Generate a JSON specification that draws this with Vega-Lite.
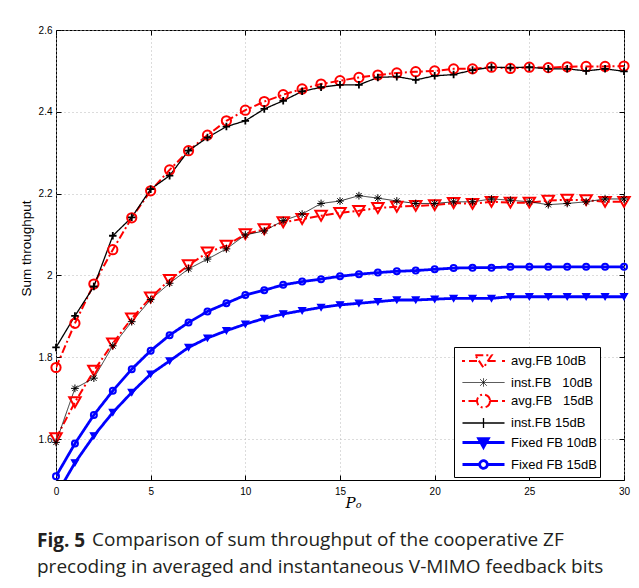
{
  "$schema": "https://vega.github.io/schema/vega-lite/v6.json",
  "background": "white",
  "padding": {"left": 18, "top": 24, "right": 5, "bottom": 5},
  "datasets": {
    "curves": [
      {"s": "avg10", "x": 0, "y": 1.602}, {"s": "avg10", "x": 1, "y": 1.690}, {"s": "avg10", "x": 2, "y": 1.767}, {"s": "avg10", "x": 3, "y": 1.834}, {"s": "avg10", "x": 4, "y": 1.895}, {"s": "avg10", "x": 5, "y": 1.946}, {"s": "avg10", "x": 6, "y": 1.989}, {"s": "avg10", "x": 7, "y": 2.025}, {"s": "avg10", "x": 8, "y": 2.056}, {"s": "avg10", "x": 9, "y": 2.073}, {"s": "avg10", "x": 10, "y": 2.101}, {"s": "avg10", "x": 11, "y": 2.113}, {"s": "avg10", "x": 12, "y": 2.130}, {"s": "avg10", "x": 13, "y": 2.138}, {"s": "avg10", "x": 14, "y": 2.146}, {"s": "avg10", "x": 15, "y": 2.153}, {"s": "avg10", "x": 16, "y": 2.158}, {"s": "avg10", "x": 17, "y": 2.165}, {"s": "avg10", "x": 18, "y": 2.168}, {"s": "avg10", "x": 19, "y": 2.170}, {"s": "avg10", "x": 20, "y": 2.172}, {"s": "avg10", "x": 21, "y": 2.177}, {"s": "avg10", "x": 22, "y": 2.175}, {"s": "avg10", "x": 23, "y": 2.180}, {"s": "avg10", "x": 24, "y": 2.178}, {"s": "avg10", "x": 25, "y": 2.178}, {"s": "avg10", "x": 26, "y": 2.183}, {"s": "avg10", "x": 27, "y": 2.185}, {"s": "avg10", "x": 28, "y": 2.184}, {"s": "avg10", "x": 29, "y": 2.180}, {"s": "avg10", "x": 30, "y": 2.180},
      {"s": "inst10", "x": 0, "y": 1.592}, {"s": "inst10", "x": 1, "y": 1.724}, {"s": "inst10", "x": 2, "y": 1.749}, {"s": "inst10", "x": 3, "y": 1.828}, {"s": "inst10", "x": 4, "y": 1.887}, {"s": "inst10", "x": 5, "y": 1.941}, {"s": "inst10", "x": 6, "y": 1.981}, {"s": "inst10", "x": 7, "y": 2.016}, {"s": "inst10", "x": 8, "y": 2.040}, {"s": "inst10", "x": 9, "y": 2.065}, {"s": "inst10", "x": 10, "y": 2.099}, {"s": "inst10", "x": 11, "y": 2.109}, {"s": "inst10", "x": 12, "y": 2.134}, {"s": "inst10", "x": 13, "y": 2.150}, {"s": "inst10", "x": 14, "y": 2.176}, {"s": "inst10", "x": 15, "y": 2.182}, {"s": "inst10", "x": 16, "y": 2.195}, {"s": "inst10", "x": 17, "y": 2.189}, {"s": "inst10", "x": 18, "y": 2.182}, {"s": "inst10", "x": 19, "y": 2.176}, {"s": "inst10", "x": 20, "y": 2.176}, {"s": "inst10", "x": 21, "y": 2.180}, {"s": "inst10", "x": 22, "y": 2.180}, {"s": "inst10", "x": 23, "y": 2.187}, {"s": "inst10", "x": 24, "y": 2.184}, {"s": "inst10", "x": 25, "y": 2.180}, {"s": "inst10", "x": 26, "y": 2.173}, {"s": "inst10", "x": 27, "y": 2.176}, {"s": "inst10", "x": 28, "y": 2.180}, {"s": "inst10", "x": 29, "y": 2.187}, {"s": "inst10", "x": 30, "y": 2.187},
      {"s": "avg15", "x": 0, "y": 1.775}, {"s": "avg15", "x": 1, "y": 1.883}, {"s": "avg15", "x": 2, "y": 1.979}, {"s": "avg15", "x": 3, "y": 2.063}, {"s": "avg15", "x": 4, "y": 2.141}, {"s": "avg15", "x": 5, "y": 2.207}, {"s": "avg15", "x": 6, "y": 2.258}, {"s": "avg15", "x": 7, "y": 2.305}, {"s": "avg15", "x": 8, "y": 2.343}, {"s": "avg15", "x": 9, "y": 2.378}, {"s": "avg15", "x": 10, "y": 2.404}, {"s": "avg15", "x": 11, "y": 2.425}, {"s": "avg15", "x": 12, "y": 2.442}, {"s": "avg15", "x": 13, "y": 2.456}, {"s": "avg15", "x": 14, "y": 2.468}, {"s": "avg15", "x": 15, "y": 2.476}, {"s": "avg15", "x": 16, "y": 2.484}, {"s": "avg15", "x": 17, "y": 2.490}, {"s": "avg15", "x": 18, "y": 2.495}, {"s": "avg15", "x": 19, "y": 2.498}, {"s": "avg15", "x": 20, "y": 2.500}, {"s": "avg15", "x": 21, "y": 2.505}, {"s": "avg15", "x": 22, "y": 2.505}, {"s": "avg15", "x": 23, "y": 2.509}, {"s": "avg15", "x": 24, "y": 2.506}, {"s": "avg15", "x": 25, "y": 2.509}, {"s": "avg15", "x": 26, "y": 2.508}, {"s": "avg15", "x": 27, "y": 2.510}, {"s": "avg15", "x": 28, "y": 2.511}, {"s": "avg15", "x": 29, "y": 2.511}, {"s": "avg15", "x": 30, "y": 2.512},
      {"s": "inst15", "x": 0, "y": 1.824}, {"s": "inst15", "x": 1, "y": 1.901}, {"s": "inst15", "x": 2, "y": 1.973}, {"s": "inst15", "x": 3, "y": 2.097}, {"s": "inst15", "x": 4, "y": 2.142}, {"s": "inst15", "x": 5, "y": 2.211}, {"s": "inst15", "x": 6, "y": 2.244}, {"s": "inst15", "x": 7, "y": 2.305}, {"s": "inst15", "x": 8, "y": 2.337}, {"s": "inst15", "x": 9, "y": 2.364}, {"s": "inst15", "x": 10, "y": 2.378}, {"s": "inst15", "x": 11, "y": 2.407}, {"s": "inst15", "x": 12, "y": 2.427}, {"s": "inst15", "x": 13, "y": 2.450}, {"s": "inst15", "x": 14, "y": 2.460}, {"s": "inst15", "x": 15, "y": 2.466}, {"s": "inst15", "x": 16, "y": 2.466}, {"s": "inst15", "x": 17, "y": 2.484}, {"s": "inst15", "x": 18, "y": 2.486}, {"s": "inst15", "x": 19, "y": 2.478}, {"s": "inst15", "x": 20, "y": 2.488}, {"s": "inst15", "x": 21, "y": 2.491}, {"s": "inst15", "x": 22, "y": 2.502}, {"s": "inst15", "x": 23, "y": 2.509}, {"s": "inst15", "x": 24, "y": 2.508}, {"s": "inst15", "x": 25, "y": 2.509}, {"s": "inst15", "x": 26, "y": 2.505}, {"s": "inst15", "x": 27, "y": 2.505}, {"s": "inst15", "x": 28, "y": 2.500}, {"s": "inst15", "x": 29, "y": 2.505}, {"s": "inst15", "x": 30, "y": 2.499},
      {"s": "fix10", "x": 0, "y": 1.462}, {"s": "fix10", "x": 1, "y": 1.542}, {"s": "fix10", "x": 2, "y": 1.608}, {"s": "fix10", "x": 3, "y": 1.665}, {"s": "fix10", "x": 4, "y": 1.714}, {"s": "fix10", "x": 5, "y": 1.759}, {"s": "fix10", "x": 6, "y": 1.791}, {"s": "fix10", "x": 7, "y": 1.824}, {"s": "fix10", "x": 8, "y": 1.847}, {"s": "fix10", "x": 9, "y": 1.865}, {"s": "fix10", "x": 10, "y": 1.881}, {"s": "fix10", "x": 11, "y": 1.895}, {"s": "fix10", "x": 12, "y": 1.906}, {"s": "fix10", "x": 13, "y": 1.914}, {"s": "fix10", "x": 14, "y": 1.922}, {"s": "fix10", "x": 15, "y": 1.928}, {"s": "fix10", "x": 16, "y": 1.932}, {"s": "fix10", "x": 17, "y": 1.936}, {"s": "fix10", "x": 18, "y": 1.940}, {"s": "fix10", "x": 19, "y": 1.940}, {"s": "fix10", "x": 20, "y": 1.942}, {"s": "fix10", "x": 21, "y": 1.944}, {"s": "fix10", "x": 22, "y": 1.944}, {"s": "fix10", "x": 23, "y": 1.944}, {"s": "fix10", "x": 24, "y": 1.948}, {"s": "fix10", "x": 25, "y": 1.948}, {"s": "fix10", "x": 26, "y": 1.948}, {"s": "fix10", "x": 27, "y": 1.948}, {"s": "fix10", "x": 28, "y": 1.948}, {"s": "fix10", "x": 29, "y": 1.948}, {"s": "fix10", "x": 30, "y": 1.948},
      {"s": "fix15", "x": 0, "y": 1.509}, {"s": "fix15", "x": 1, "y": 1.589}, {"s": "fix15", "x": 2, "y": 1.659}, {"s": "fix15", "x": 3, "y": 1.718}, {"s": "fix15", "x": 4, "y": 1.771}, {"s": "fix15", "x": 5, "y": 1.816}, {"s": "fix15", "x": 6, "y": 1.854}, {"s": "fix15", "x": 7, "y": 1.885}, {"s": "fix15", "x": 8, "y": 1.912}, {"s": "fix15", "x": 9, "y": 1.932}, {"s": "fix15", "x": 10, "y": 1.952}, {"s": "fix15", "x": 11, "y": 1.964}, {"s": "fix15", "x": 12, "y": 1.977}, {"s": "fix15", "x": 13, "y": 1.985}, {"s": "fix15", "x": 14, "y": 1.991}, {"s": "fix15", "x": 15, "y": 1.998}, {"s": "fix15", "x": 16, "y": 2.003}, {"s": "fix15", "x": 17, "y": 2.007}, {"s": "fix15", "x": 18, "y": 2.010}, {"s": "fix15", "x": 19, "y": 2.012}, {"s": "fix15", "x": 20, "y": 2.015}, {"s": "fix15", "x": 21, "y": 2.018}, {"s": "fix15", "x": 22, "y": 2.019}, {"s": "fix15", "x": 23, "y": 2.019}, {"s": "fix15", "x": 24, "y": 2.021}, {"s": "fix15", "x": 25, "y": 2.021}, {"s": "fix15", "x": 26, "y": 2.021}, {"s": "fix15", "x": 27, "y": 2.021}, {"s": "fix15", "x": 28, "y": 2.021}, {"s": "fix15", "x": 29, "y": 2.021}, {"s": "fix15", "x": 30, "y": 2.021}
    ]
  },
  "title": {
    "text": "Fig. 5",
    "subtitle": "precoding in averaged and instantaneous V-MIMO feedback bits",
    "orient": "bottom",
    "anchor": "start",
    "frame": "group",
    "font": "Open Sans",
    "fontSize": 19,
    "fontWeight": "bold",
    "color": "#231f20",
    "subtitleFont": "Open Sans",
    "subtitleFontSize": 19,
    "subtitleFontWeight": "normal",
    "subtitleColor": "#231f20",
    "subtitlePadding": 7,
    "offset": 0,
    "dx": -19,
    "dy": -19
  },
  "vconcat": [
    {
      "title": {
        "text": "Comparison of sum throughput of the cooperative ZF",
        "orient": "bottom",
        "anchor": "start",
        "frame": "group",
        "font": "Open Sans",
        "fontSize": 19,
        "fontWeight": "normal",
        "color": "#231f20",
        "dx": 36,
        "offset": 21
      },
      "width": 568,
      "height": 450,
      "data": {"name": "curves"},
      "resolve": {"axis": {"x": "independent", "y": "independent"}},
      "layer": [
        {
          "mark": {"type": "line", "clip": true},
          "encoding": {
            "x": {"field": "x", "type": "quantitative", "scale": {"domain": [0, 30], "nice": false, "zero": false},
              "axis": {"values": [0, 5, 10, 15, 20, 25, 30], "grid": true, "domain": false, "tickSize": -5, "labelPadding": 11, "labelFlush": false,
                "title": "Pₒ", "titleFont": "DejaVu Serif", "titleFontStyle": "italic", "titleFontSize": 15, "titleX": 297, "titleY": 27, "titleBaseline": "alphabetic", "titleAlign": "center"}},
            "y": {"field": "y", "type": "quantitative", "scale": {"domain": [1.5, 2.6], "nice": false, "zero": false},
              "axis": {"values": [1.6, 1.8, 2, 2.2, 2.4, 2.6], "format": ".1~f", "grid": true, "domain": false, "tickSize": -5, "labelPadding": 9, "labelFlush": false,
                "title": "Sum throughput", "titleFontSize": 13.5, "titleX": -30, "titleY": 218, "titleAlign": "center", "titleBaseline": "middle"}},
            "color": {"field": "s", "type": "nominal",
              "scale": {"domain": ["avg10", "inst10", "avg15", "inst15", "fix10", "fix15"], "range": ["#ff0000", "#000000", "#ff0000", "#000000", "#0000ff", "#0000ff"]},
              "legend": {
                "orient": "none", "legendX": 398, "legendY": 317, "title": null,
                "padding": 3, "strokeColor": "black", "fillColor": "white",
                "symbolSize": 400, "symbolOffset": 15, "labelOffset": 16, "rowPadding": 0,
                "labelFont": "Liberation Sans", "labelFontSize": 13, "labelColor": "black",
                "labelExpr": "['avg.FB 10dB','inst.FB\u00a0\u00a0 10dB','avg.FB\u00a0\u00a0 15dB','inst.FB 15dB','Fixed FB 10dB','Fixed FB 15dB'][indexof(['avg10','inst10','avg15','inst15','fix10','fix15'], datum.value)] + '\u00a0\u00a0\u00a0\u00a0'",
                "encode": {"symbols": {"update": {
                  "shape": {"signal": "['M-2.15,0H-1.85M-1.45,0H-0.42M0.42,0H1.45M1.85,0H2.15M-0.82,-0.58H0.82L0,0.68Z', 'M-2.1,0H2.1M0,-0.42V0.42M-0.33,-0.33L0.33,0.33M-0.33,0.33L0.33,-0.33', 'M-2.15,0H-1.85M-1.5,0H-0.65M0.65,0H1.5M1.85,0H2.15M0.65,0A0.65,0.65 0 1,1 -0.65,0A0.65,0.65 0 1,1 0.65,0', 'M-2.1,0H2.1M0,-0.5V0.5', 'M-2.1,0H2.1M-0.48,-0.38H0.48L0,0.48Z', 'M-2.1,0H-0.38M0.38,0H2.1M0.38,0A0.38,0.38 0 1,1 -0.38,0A0.38,0.38 0 1,1 0.38,0'][indexof(['avg10','inst10','avg15','inst15','fix10','fix15'], datum.value)]"},
                  "stroke": {"signal": "['#ff0000','#000000','#ff0000','#000000','#0000ff','#0000ff'][indexof(['avg10','inst10','avg15','inst15','fix10','fix15'], datum.value)]"},
                  "fill": {"signal": "['transparent','transparent','transparent','transparent','#0000ff','transparent'][indexof(['avg10','inst10','avg15','inst15','fix10','fix15'], datum.value)]"},
                  "strokeWidth": {"signal": "[2.2,0.8,2.2,1.6,3,3][indexof(['avg10','inst10','avg15','inst15','fix10','fix15'], datum.value)]"},
                  "strokeDash": {"value": [1, 0]},
                  "size": {"value": 400},
                  "opacity": {"value": 1}
                }}}
              }},
            "strokeDash": {"field": "s", "type": "nominal",
              "scale": {"domain": ["avg10", "inst10", "avg15", "inst15", "fix10", "fix15"], "range": [[8, 3, 2, 3], [1, 0], [8, 3, 2, 3], [1, 0], [1, 0], [1, 0]]}, "legend": null},
            "strokeWidth": {"field": "s", "type": "nominal",
              "scale": {"type": "ordinal", "domain": ["avg10", "inst10", "avg15", "inst15", "fix10", "fix15"], "range": [2, 0.8, 2, 1.3, 2.8, 2.8]}, "legend": null},
            "order": {"field": "x", "type": "quantitative"}
          }
        },
        {
          "transform": [{"filter": "datum.s === 'avg10'"}],
          "mark": {"type": "point", "shape": "triangle-down", "filled": false, "color": "#ff0000", "strokeWidth": 2, "size": 130, "opacity": 1},
          "encoding": {
            "x": {"field": "x", "type": "quantitative", "axis": {"orient": "top", "values": [0, 5, 10, 15, 20, 25, 30], "labels": false, "grid": false, "domain": false, "tickSize": -5, "title": null}},
            "y": {"field": "y", "type": "quantitative", "axis": {"orient": "right", "values": [1.6, 1.8, 2, 2.2, 2.4, 2.6], "labels": false, "grid": false, "domain": false, "tickSize": -5, "title": null}}
          }
        },
        {
          "transform": [{"filter": "datum.s === 'inst10'"}],
          "mark": {"type": "point", "shape": "M-1,0H1M0,-1V1M-0.7,-0.7L0.7,0.7M-0.7,0.7L0.7,-0.7", "filled": false, "color": "#000000", "strokeWidth": 1, "size": 60, "opacity": 1},
          "encoding": {
            "x": {"field": "x", "type": "quantitative", "axis": null},
            "y": {"field": "y", "type": "quantitative", "axis": null}
          }
        },
        {
          "transform": [{"filter": "datum.s === 'avg15'"}],
          "mark": {"type": "point", "shape": "circle", "filled": false, "color": "#ff0000", "strokeWidth": 2, "size": 85, "opacity": 1},
          "encoding": {
            "x": {"field": "x", "type": "quantitative", "axis": null},
            "y": {"field": "y", "type": "quantitative", "axis": null}
          }
        },
        {
          "transform": [{"filter": "datum.s === 'inst15'"}],
          "mark": {"type": "point", "shape": "M-1,0H1M0,-1V1", "filled": false, "color": "#000000", "strokeWidth": 1.8, "size": 56, "opacity": 1},
          "encoding": {
            "x": {"field": "x", "type": "quantitative", "axis": null},
            "y": {"field": "y", "type": "quantitative", "axis": null}
          }
        },
        {
          "transform": [{"filter": "datum.s === 'fix10' && datum.x > 0"}],
          "mark": {"type": "point", "shape": "triangle-down", "filled": true, "color": "#0000ff", "stroke": "#0000ff", "strokeWidth": 1.2, "size": 50, "opacity": 1},
          "encoding": {
            "x": {"field": "x", "type": "quantitative", "axis": null},
            "y": {"field": "y", "type": "quantitative", "axis": null}
          }
        },
        {
          "transform": [{"filter": "datum.s === 'fix15'"}],
          "mark": {"type": "point", "shape": "circle", "filled": false, "color": "#0000ff", "strokeWidth": 2, "size": 36, "opacity": 1},
          "encoding": {
            "x": {"field": "x", "type": "quantitative", "axis": null},
            "y": {"field": "y", "type": "quantitative", "axis": null}
          }
        }
      ]
    }
  ],
  "config": {
    "view": {"stroke": "black", "strokeWidth": 1},
    "axis": {
      "labelFont": "Liberation Sans", "labelFontSize": 10, "labelColor": "black",
      "titleFont": "Liberation Sans", "titleColor": "black", "titleFontWeight": "normal",
      "tickColor": "black", "tickWidth": 1,
      "gridColor": "#b8b8b8", "gridDash": [1, 3], "gridWidth": 1, "gridOpacity": 1
    }
  }
}
